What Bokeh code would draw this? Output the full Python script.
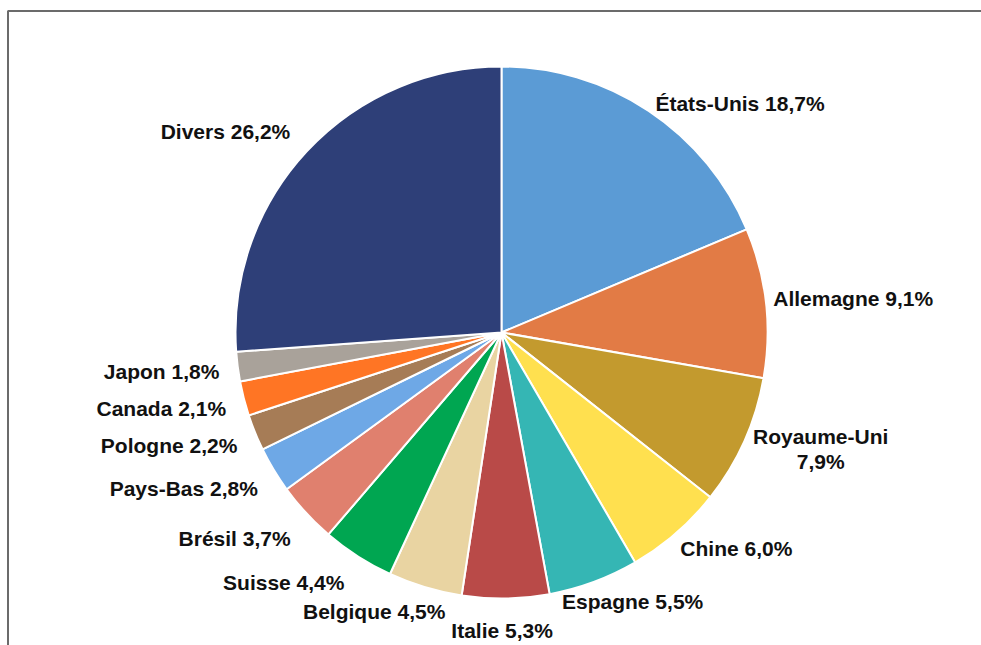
import math
from bokeh.plotting import figure
from bokeh.models import ColumnDataSource, Range1d
from bokeh.embed import file_html
from bokeh.resources import INLINE
from bokeh.core.properties import value

countries = ["États-Unis", "Allemagne", "Royaume-Uni", "Chine", "Espagne", "Italie",
             "Belgique", "Suisse", "Brésil", "Pays-Bas", "Pologne", "Canada", "Japon", "Divers"]
shares = [18.7, 9.1, 7.9, 6.0, 5.5, 5.3, 4.5, 4.4, 3.7, 2.8, 2.2, 2.1, 1.8, 26.2]
label_texts = ["États-Unis 18,7%", "Allemagne 9,1%", "Royaume-Uni\n7,9%", "Chine 6,0%",
               "Espagne 5,5%", "Italie 5,3%", "Belgique 4,5%", "Suisse 4,4%", "Brésil 3,7%",
               "Pays-Bas 2,8%", "Pologne 2,2%", "Canada 2,1%", "Japon 1,8%", "Divers 26,2%"]

# styles / layout
colors = ["#5B9BD5", "#E27B45", "#C39A2E", "#FFE04F", "#35B6B4", "#B94A48",
          "#E9D4A2", "#00A651", "#E0806E", "#6EA8E6", "#A67C56", "#FF7524", "#A9A29A", "#2E3F78"]
aligns = ["left", "left", "center", "left", "left", "center", "right", "right",
          "right", "right", "right", "right", "right", "right"]
nudges = [(-8, 15), (-19, -1), (52, -3), (-13, -5), (-41, -5), (-4, 5), (28, -1),
          (1, 4), (4, 7), (7, 5), (7, 3), (8, 3), (8, 1), (3, -2)]

W, H = 981, 645
cx, cy = 501, -332
R = 266

total = sum(shares)
starts, ends, lx, ly = [], [], [], []
cum = 0.0
for i, s in enumerate(shares):
    f0 = cum / total
    f1 = (cum + s) / total
    cum += s
    starts.append(math.pi / 2 - f1 * 2 * math.pi)
    ends.append(math.pi / 2 - f0 * 2 * math.pi)
    mid = (f0 + f1) / 2 * 2 * math.pi
    rr = R * 1.1
    ax = cx + rr * math.sin(mid)
    ay = cy + rr * math.cos(mid)
    lx.append(ax + nudges[i][0])
    ly.append(ay - nudges[i][1])

src = ColumnDataSource(dict(start=starts, end=ends, color=colors, name=countries))
lab = ColumnDataSource(dict(x=lx, y=ly, text=label_texts, align=aligns))

p = figure(width=W, height=H, output_backend="svg", toolbar_location=None,
           x_range=Range1d(0, W), y_range=Range1d(-H, 0), min_border=0)
p.axis.visible = False
p.grid.visible = False
p.outline_line_color = None
p.background_fill_color = "white"

# frame
p.line(x=[7.5, 7.5, 1000], y=[-700, -10.5, -10.5], line_color="#6b6b6b", line_width=2)

p.wedge(x=cx, y=cy, radius=R, start_angle="start", end_angle="end", fill_color="color",
        line_color="white", line_width=2, source=src)

p.text(x="x", y="y", text="text", text_align="align", text_baseline="middle",
       text_font=value("Liberation Sans"), text_font_style="bold", text_font_size="21px",
       text_color="#111111", text_line_height=1.1, source=lab)

open("out.html", "w").write(file_html(p, INLINE))
